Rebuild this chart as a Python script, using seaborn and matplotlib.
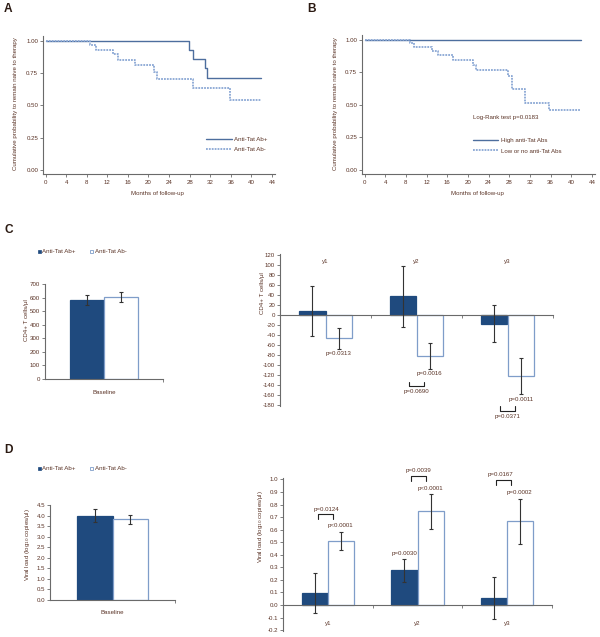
import numpy as np
import pandas as pd
import seaborn as sns
import matplotlib.pyplot as plt
from matplotlib.patches import Patch
from matplotlib.lines import Line2D
from matplotlib.ticker import FormatStrFormatter

sns.set_theme(style='ticks')
plt.rcParams['font.family'] = ['Liberation Sans', 'DejaVu Sans']
plt.rcParams['axes.unicode_minus'] = False

TXT = '#5a3326'
SPINE = '#6a6a6a'
DARK = '#1f4a7e'
EDGE_LIGHT = '#7f9dc9'
ERR = '#333333'
KM_SOLID = '#4d6e9e'
KM_DOT = '#8aa7d4'
FS = 4.4

# --- Kaplan-Meier curves (months, probability after each step) ---
a_pos_months = [0, 27.9, 28.6, 30.9, 31.3, 41.8]
a_pos_surv = [1.0, 0.932, 0.86, 0.79, 0.711, 0.711]
a_neg_months = [0, 8.7, 9.8, 13.2, 14.0, 17.3, 21.0, 21.6, 28.6, 35.9, 41.8]
a_neg_surv = [1.0, 0.971, 0.932, 0.901, 0.854, 0.815, 0.763, 0.703, 0.633, 0.542, 0.542]

b_high_months = [0, 41.9]
b_high_surv = [1.0, 1.0]
b_low_months = [0, 8.7, 9.5, 13.1, 14.2, 17.2, 20.9, 21.5, 27.8, 28.5, 31.0, 35.6, 41.9]
b_low_surv = [1.0, 0.979, 0.944, 0.918, 0.882, 0.846, 0.808, 0.767, 0.723, 0.621, 0.518, 0.462, 0.462]

km_xticks = list(range(0, 45, 4))
km_yticks = [0.0, 0.25, 0.5, 0.75, 1.0]

# --- bar panels ---
groups = ['Anti-Tat Ab+', 'Anti-Tat Ab-']
years = ['y1', 'y2', 'y3']

c_base_mean = [580, 607]
c_base_err = [38, 37]
c_pos_change = [8, 38, -17]
c_pos_err = [50, 61, 37]
c_neg_change = [-46, -81, -121]
c_neg_err = [21, 26, 36]

d_base_mean = [4.0, 3.82]
d_base_err = [0.3, 0.22]
d_pos_change = [0.093, 0.275, 0.055]
d_pos_err = [0.16, 0.095, 0.168]
d_neg_change = [0.51, 0.745, 0.665]
d_neg_err = [0.075, 0.14, 0.18]

fig = plt.figure(figsize=(6, 6.37), dpi=100)
fig.patch.set_facecolor('white')


def px_axes(l, t, r, b):
    return fig.add_axes([l / 600, 1 - b / 637, (r - l) / 600, (b - t) / 637])


def fx(x):
    return x / 600


def fy(y):
    return 1 - y / 637


def style_axes(ax):
    for s in ['top', 'right']:
        ax.spines[s].set_visible(False)
    for s in ['left', 'bottom']:
        ax.spines[s].set_color(SPINE)
        ax.spines[s].set_linewidth(0.8)
    ax.tick_params(axis='both', which='both', direction='out', length=2, width=0.6,
                   color=SPINE, labelsize=FS, labelcolor=TXT, pad=1.5)
    ax.grid(False)
    ax.set_facecolor('none')


def label_y(ax, text, xpx, ypx, box):
    l, t, r, b = box
    ax.set_ylabel(text, fontsize=FS, color=TXT)
    ax.yaxis.set_label_coords((xpx + 3 - l) / (r - l), (b - ypx) / (b - t))


def label_x(ax, text, xpx, ypx, box):
    l, t, r, b = box
    ax.set_xlabel(text, fontsize=FS, color=TXT)
    ax.xaxis.set_label_coords((xpx - l) / (r - l), (b - ypx + 3.5) / (b - t))


def km_panel(box, curves, ylab_x, xlab_xy):
    ax = px_axes(*box)
    style_axes(ax)
    for months, surv, color, ls, lw in curves:
        sns.lineplot(x=months, y=surv, drawstyle='steps-post', color=color, ls=ls, lw=lw,
                     estimator=None, sort=False, ax=ax)
    ax.set_xlim(-0.5, 44.6)
    ax.set_ylim(-0.031, 1.038)
    ax.set_xticks(km_xticks)
    ax.set_yticks(km_yticks)
    ax.yaxis.set_major_formatter(FormatStrFormatter('%.2f'))
    ax.tick_params(axis='x', pad=2.5)
    label_y(ax, 'Cumulative probability to remain naive to therapy', ylab_x, 104, box)
    label_x(ax, 'Months of follow-up', xlab_xy[0], xlab_xy[1], box)
    return ax


DOT = (0, (1, 0.6))

box_a = (43, 36, 275, 174)
km_panel(box_a, [(a_pos_months, a_pos_surv, KM_SOLID, '-', 1.0),
                 (a_neg_months, a_neg_surv, KM_DOT, DOT, 1.3)], 15, (157, 195))
fig.legend([Line2D([], [], color=KM_SOLID, lw=1.0), Line2D([], [], color=KM_DOT, lw=1.3, ls=DOT)],
           groups, loc='upper left', bbox_to_anchor=(fx(206), fy(137)), frameon=False,
           fontsize=FS, labelcolor=TXT, handlelength=4.2, handletextpad=0.4,
           labelspacing=0.75, borderpad=0, borderaxespad=0)

box_b = (362, 35, 595, 174)
ax_b = km_panel(box_b, [(b_high_months, b_high_surv, KM_SOLID, '-', 1.0),
                        (b_low_months, b_low_surv, KM_DOT, DOT, 1.3)], 335, (477, 194))
fig.legend([Line2D([], [], color=KM_SOLID, lw=1.0), Line2D([], [], color=KM_DOT, lw=1.3, ls=DOT)],
           ['High anti-Tat Abs', 'Low or no anti-Tat Abs'], loc='upper left',
           bbox_to_anchor=(fx(472.7), fy(137.5)), frameon=False, fontsize=FS, labelcolor=TXT,
           handlelength=4.1, handletextpad=0.5, labelspacing=0.9, borderpad=0, borderaxespad=0)
fig.text(fx(473), fy(117), 'Log-Rank test p=0.0183', fontsize=FS, color=TXT, ha='left', va='center')


def bar_panel(ax, cats, pos_vals, neg_vals, pos_err, neg_err, width):
    df = pd.DataFrame({
        'cat': list(cats) * 2,
        'group': [groups[0]] * len(cats) + [groups[1]] * len(cats),
        'value': list(pos_vals) + list(neg_vals),
    })
    sns.barplot(data=df, x='cat', y='value', hue='group', hue_order=groups,
                palette=[DARK, 'white'], saturation=1, width=width,
                errorbar=None, legend=False, ax=ax)
    conts = list(ax.containers)[:2]
    for cont, edge, vals, errs in zip(conts, [DARK, EDGE_LIGHT], [pos_vals, neg_vals], [pos_err, neg_err]):
        xs = []
        for bar in cont:
            bar.set_edgecolor(edge)
            bar.set_linewidth(0.9)
            xs.append(bar.get_x() + bar.get_width() / 2)
        ax.errorbar(xs, vals, yerr=errs, fmt='none', ecolor=ERR, elinewidth=0.8,
                    capsize=1.6, capthick=0.8, zorder=5)
    ax.set_xlabel('')
    ax.set_ylabel('')
    style_axes(ax)
    ax.set_xlim(-0.5, len(cats) - 0.5)
    ax.set_xticks(range(len(cats)), cats)
    ax.set_xticks([i + 0.5 for i in range(len(cats))], minor=True)
    ax.tick_params(axis='x', which='major', length=0)
    ax.tick_params(axis='x', which='minor', length=2.2)


def bar_legend(ypx):
    handles = [Patch(facecolor=DARK, edgecolor=DARK, lw=0.5),
               Patch(facecolor='white', edgecolor=EDGE_LIGHT, lw=0.6)]
    fig.legend(handles, groups, loc='center left', bbox_to_anchor=(fx(37.5), fy(ypx)), ncol=2,
               frameon=False, fontsize=FS, labelcolor=TXT, handlelength=0.5, handleheight=0.5,
               handletextpad=0.25, columnspacing=2.4, borderpad=0, borderaxespad=0)


def ptext(ax, x, y, s):
    ax.text(x, y, s, ha='center', va='center', fontsize=FS, color=TXT, clip_on=False)


def bracket(ax, xc, half, y_bar, y_leg):
    ax.plot([xc - half, xc - half, xc + half, xc + half], [y_leg, y_bar, y_bar, y_leg],
            color='#222222', lw=0.8, clip_on=False)


# --- panel C ---
box_cl = (45, 284, 163, 379)
ax = px_axes(*box_cl)
bar_panel(ax, ['Baseline'], [c_base_mean[0]], [c_base_mean[1]], [c_base_err[0]], [c_base_err[1]], 0.576)
ax.set_ylim(0, 700)
ax.set_yticks(range(0, 701, 100))
ax.tick_params(axis='x', which='major', pad=8)
label_y(ax, 'CD4+ T cells/\u03bcl', 26, 320, box_cl)
bar_legend(252)

box_cr = (280, 254, 553, 406)
ax = px_axes(*box_cr)
bar_panel(ax, years, c_pos_change, c_neg_change, c_pos_err, c_neg_err, 0.59)
ax.set_ylim(-182, 122)
ax.set_yticks(range(-180, 121, 20))
ax.spines['bottom'].set_position(('data', 0))
ax.tick_params(axis='x', which='major', labelbottom=False, labeltop=True, top=False,
               bottom=False, pad=-7.2)
label_y(ax, 'CD4+ T cells/\u03bcl', 262, 293, box_cr)
ptext(ax, 0.1475, -77, 'p=0.0313')
ptext(ax, 1.1475, -117, 'p=0.0016')
bracket(ax, 1.0, 0.082, -141, -133)
ptext(ax, 1.0, -153, 'p=0.0690')
ptext(ax, 2.1475, -169, 'p=0.0011')
bracket(ax, 2.0, 0.078, -192, -182)
ptext(ax, 2.0, -203, 'p=0.0371')

# --- panel D ---
box_dl = (50, 505, 175, 600)
ax = px_axes(*box_dl)
bar_panel(ax, ['Baseline'], [d_base_mean[0]], [d_base_mean[1]], [d_base_err[0]], [d_base_err[1]], 0.57)
ax.set_ylim(0, 4.5)
ax.set_yticks([i / 2 for i in range(10)])
ax.yaxis.set_major_formatter(FormatStrFormatter('%.1f'))
ax.tick_params(axis='x', which='major', pad=7.2)
label_y(ax, 'Viral load (log$_{10}$ copies/\u03bcl)', 29, 545, box_dl)
bar_legend(469)

box_dr = (283, 478, 552, 631)
ax = px_axes(*box_dr)
bar_panel(ax, years, d_pos_change, d_neg_change, d_pos_err, d_neg_err, 0.58)
ax.set_ylim(-0.207, 1.011)
ax.set_yticks([i / 10 for i in range(-2, 11)])
ax.yaxis.set_major_formatter(FormatStrFormatter('%.1f'))
ax.spines['bottom'].set_position(('data', 0))
ax.tick_params(axis='x', which='major', pad=11.5)
label_y(ax, 'Viral load (log$_{10}$ copies/\u03bcl)', 262, 527, box_dr)
ptext(ax, -0.02, 0.762, 'p=0.0124')
bracket(ax, -0.024, 0.084, 0.722, 0.682)
ptext(ax, 0.14, 0.629, 'p<0.0001')
ptext(ax, 0.85, 0.41, 'p=0.0030')
ptext(ax, 1.008, 1.069, 'p=0.0039')
bracket(ax, 1.01, 0.083, 1.03, 0.99)
ptext(ax, 1.139, 0.929, 'p<0.0001')
ptext(ax, 1.927, 1.04, 'p=0.0167')
bracket(ax, 1.96, 0.08, 0.995, 0.955)
ptext(ax, 2.14, 0.894, 'p=0.0002')

# panel letters
for letter, x, y in [('A', 8.5, 9), ('B', 311.5, 9), ('C', 8.5, 230), ('D', 8.5, 450)]:
    fig.text(fx(x), fy(y), letter, fontsize=8.6, fontweight='bold', color='#2b1a12',
             ha='center', va='center')

fig.savefig('out.png', dpi=100, facecolor='white')
